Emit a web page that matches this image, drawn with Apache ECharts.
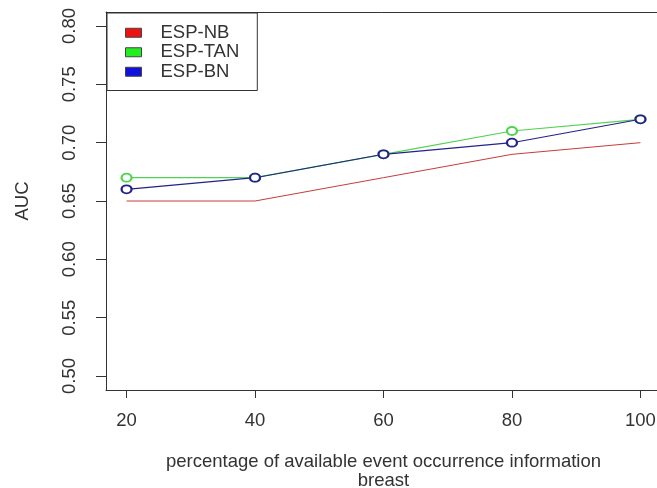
<!DOCTYPE html>
<html>
<head>
<meta charset="utf-8">
<script src="https://cdn.jsdelivr.net/npm/echarts@6/dist/echarts.min.js"></script>
<style>html,body{margin:0;padding:0;background:#fff;overflow:hidden;}#c{width:657px;height:488px;}</style>
</head>
<body>
<div id="c"></div>
<script>
const xValues = [20, 40, 60, 80, 100];
const espNB  = [0.65, 0.65, 0.67, 0.69, 0.70];
const espTAN = [0.67, 0.67, 0.69, 0.71, 0.72];
const espBN  = [0.66, 0.67, 0.69, 0.70, 0.72];
const xTicks = [20, 40, 60, 80, 100];
const yTicks = [0.50, 0.55, 0.60, 0.65, 0.70, 0.75, 0.80];

const font = 'Liberation Sans, Arial, sans-serif';
const fs = 18.5;
const pair = arr => xValues.map((x, i) => [x, arr[i]]);

const chart = echarts.init(document.getElementById('c'), null, {renderer: 'canvas'});
chart.setOption({
  animation: false,
  backgroundColor: '#fff',
  grid: {left: 106, right: -4, top: 12, bottom: 98, outerBoundsMode: 'none', containLabel: false, show: false},
  xAxis: [{
    type: 'value', min: 16.8, max: 103.2, position: 'bottom',
    name: 'percentage of available event occurrence information\nbreast',
    nameLocation: 'middle', nameGap: 62,
    nameTextStyle: {fontFamily: font, fontSize: fs, color: '#333', lineHeight: 19},
    axisLine: {show: true, onZero: false, lineStyle: {color: '#333', width: 1}},
    axisTick: {show: true, length: 8, customValues: xTicks, lineStyle: {color: '#333'}},
    axisLabel: {customValues: xTicks, fontFamily: font, fontSize: fs, color: '#333', margin: 21},
    splitLine: {show: false}, splitArea: {show: false}, minorTick: {show: false}
  }, {
    type: 'value', min: 16.8, max: 103.2, position: 'top',
    axisLine: {show: true, onZero: false, lineStyle: {color: '#333', width: 1}},
    axisTick: {show: false}, axisLabel: {show: false}, splitLine: {show: false}, splitArea: {show: false}
  }],
  yAxis: {
    type: 'value', min: 0.488, max: 0.812,
    name: 'AUC', nameLocation: 'middle', nameGap: 74, nameRotate: 90,
    nameTextStyle: {fontFamily: font, fontSize: fs, color: '#333'},
    axisLine: {show: true, onZero: false, lineStyle: {color: '#333', width: 1}},
    axisTick: {show: true, length: 10, customValues: yTicks, lineStyle: {color: '#333'}},
    axisLabel: {customValues: yTicks, rotate: 90, fontFamily: font, fontSize: fs, color: '#333', margin: 27,
      formatter: v => v.toFixed(2)},
    splitLine: {show: false}, splitArea: {show: false}
  },
  legend: {
    orient: 'vertical', left: 107, top: 13,
    padding: [10, 18, 9, 18],
    itemGap: 0, itemWidth: 16, itemHeight: 9, icon: 'rect',
    borderColor: '#333', borderWidth: 1, backgroundColor: '#fff',
    textStyle: {fontFamily: font, fontSize: fs, color: '#333', lineHeight: 19.5, padding: [0, 0, 0, 14]},
    data: [
      {name: 'ESP-NB', itemStyle: {color: '#ee1111', borderColor: '#444', borderWidth: 1}},
      {name: 'ESP-TAN', itemStyle: {color: '#22ee22', borderColor: '#444', borderWidth: 1}},
      {name: 'ESP-BN', itemStyle: {color: '#1111dd', borderColor: '#444', borderWidth: 1}}
    ]
  },
  graphic: [{type: 'rect', right: 0, top: 14, z: 100, silent: true,
    shape: {width: 5, height: 374}, style: {fill: '#fff'}}],
  series: [
    {name: 'ESP-NB', type: 'line', data: pair(espNB), showSymbol: false, symbol: 'none',
      lineStyle: {color: '#c83c3c', width: 1}, itemStyle: {color: '#c83c3c'}},
    {name: 'ESP-TAN', type: 'line', data: pair(espTAN), symbol: 'emptyCircle', symbolSize: [10, 8],
      lineStyle: {color: '#4fd44f', width: 1.2}, itemStyle: {color: '#4fd44f', borderWidth: 1}},
    {name: 'ESP-BN', type: 'line', data: pair(espBN), symbol: 'emptyCircle', symbolSize: [10, 8],
      lineStyle: {color: '#22228a', width: 1.1}, itemStyle: {color: '#22228a', borderWidth: 1}}
  ]
});
</script>
</body>
</html>
